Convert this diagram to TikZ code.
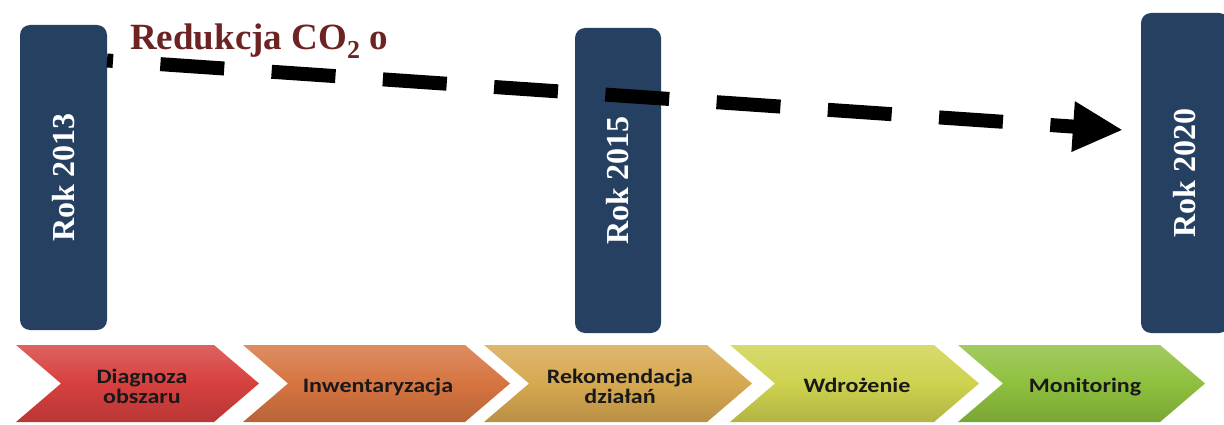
\documentclass[tikz,border=0pt]{standalone}
\usepackage{fontspec}
\usepackage{graphicx}
\setmainfont{Liberation Serif}
\newfontfamily\chevfont{Carlito}
\usetikzlibrary{arrows.meta}
\definecolor{navybox}{RGB}{38,64,97}
\definecolor{titlered}{RGB}{110,35,35}
\definecolor{cRed}{RGB}{214,64,62}
\definecolor{cOrange}{RGB}{214,116,64}
\definecolor{cGold}{RGB}{214,168,80}
\definecolor{cLime}{RGB}{206,210,78}
\definecolor{cGreen}{RGB}{142,192,62}
\newcommand\mychev[3]{%
  \path[top color=#3!82!white, bottom color=#3!86!black, middle color=#3]
    (#1,345) -- (#2-45,345) -- (#2,383.5) -- (#2-45,422) -- (#1,422) -- (#1+45,383.5) -- cycle;}
\newcommand\ctext[1]{\scalebox{1.17}[1]{\begin{tabular}[t]{@{}c@{}}#1\end{tabular}}}
\tikzset{
  yearbox/.style={fill=navybox, rounded corners=10pt, inner sep=0pt},
  yearlabel/.style={rotate=90, text=white, font=\bfseries\fontsize{32}{36}\selectfont, inner sep=0pt},
  chevtext/.style={font=\chevfont\bfseries\fontsize{20.5}{20}\selectfont, anchor=base, inner sep=0pt, text=black!90},
  dasharrow/.style={line width=14pt, dash pattern=on 64pt off 47.5pt, dash phase=58pt, -{Triangle[length=50pt,width=47pt]}}
}
\begin{document}
\begin{tikzpicture}[x=1pt,y=-1pt]
\useasboundingbox (0,0) rectangle (1224,425);
\fill[white] (0,0) rectangle (1224,425);
% chevrons
\mychev{16}{259}{cRed}
\mychev{243}{510}{cOrange}
\mychev{484}{752}{cGold}
\mychev{730}{979}{cLime}
\mychev{958}{1205}{cGreen}
\node[chevtext] (t1) at (142,383) {\ctext{Diagnoza\\obszaru}};
\node[chevtext] (t2) at (378,392) {\ctext{Inwentaryzacja}};
\node[chevtext] (t3) at (620,383) {\ctext{Rekomendacja\\działań}};
\node[chevtext] (t4) at (857,392) {\ctext{Wdrożenie}};
\node[chevtext] (t5) at (1085,392) {\ctext{Monitoring}};
% year boxes
\node[yearbox, minimum width=87pt, minimum height=305pt] (b1) at (63.5,177.5) {};
\node[yearlabel] (l1) at (b1) {Rok 2013};
\node[yearbox, minimum width=86pt, minimum height=305pt] (b2) at (618,180.5) {};
\node[yearlabel] (l2) at (b2) {Rok 2015};
\node[yearbox, minimum width=88pt, minimum height=320pt] (b3) at (1185,173) {};
\node[yearlabel] (l3) at (b3) {Rok 2020};
% title
\node[anchor=base west, inner sep=0pt, text=titlered, font=\bfseries\fontsize{37}{40}\selectfont] (title) at (130,50) {Redukcja CO\textsubscript{2} o};
% dashed arrow
\coordinate (s) at (107,60.5);
\coordinate (e) at (1123,130);
\draw[dasharrow] (s) -- (e);
\end{tikzpicture}
\end{document}
